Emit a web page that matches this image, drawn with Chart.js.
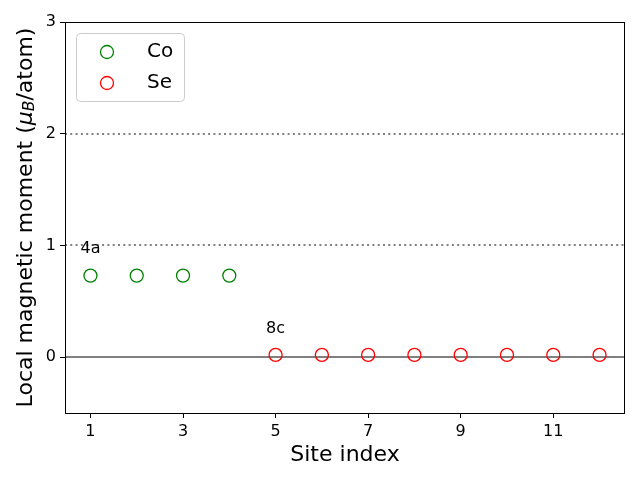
<!DOCTYPE html>
<html>
<head>
<meta charset="utf-8">
<script src="https://cdn.jsdelivr.net/npm/chart.js@4/dist/chart.umd.min.js"></script>
<style>
  html, body { margin: 0; padding: 0; background: #fff; }
  #wrap { width: 640px; height: 480px; }
</style>
</head>
<body>
<div id="wrap"><canvas id="momentChart" width="640" height="480"></canvas></div>
<script>
const coSites = [1, 2, 3, 4];
const coMoments = [0.73, 0.73, 0.73, 0.73];
const seSites = [5, 6, 7, 8, 9, 10, 11, 12];
const seMoments = [0.02, 0.02, 0.02, 0.02, 0.02, 0.02, 0.02, 0.02];
const xTicks = [1, 3, 5, 7, 9, 11];
const yTicks = [0, 1, 2, 3];
const refLines = [0, 1, 2];
const siteNames = ["4a", "8c"];
const siteNameX = [1, 5];
const siteNameY = [0.93, 0.22];

const FONT = "'DejaVu Sans', sans-serif";

function toPoints(xs, ys) {
    return xs.map((x, i) => ({ x: x, y: ys[i] }));
}

// reference lines, frame, site labels, legend and y title
const extras = {
    id: "extras",
    beforeDatasetsDraw(chart) {
        const ctx = chart.ctx;
        const a = chart.chartArea;
        const y = chart.scales.y;
        ctx.save();
        refLines.forEach(v => {
            const py = Math.round(y.getPixelForValue(v));
            ctx.beginPath();
            ctx.strokeStyle = "#808080";
            ctx.lineWidth = 2;
            ctx.setLineDash(v === 0 ? [] : [2, 3.3]);
            ctx.moveTo(a.left, py);
            ctx.lineTo(a.right, py);
            ctx.stroke();
        });
        ctx.restore();
    },
    afterDraw(chart) {
        const ctx = chart.ctx;
        const a = chart.chartArea;
        const xs = chart.scales.x;
        const ys = chart.scales.y;
        ctx.save();

        // frame
        ctx.strokeStyle = "#000";
        ctx.lineWidth = 1;
        ctx.setLineDash([]);
        ctx.strokeRect(Math.round(a.left) + 0.5, Math.round(a.top) + 0.5,
            Math.round(a.right - a.left) - 1, Math.round(a.bottom - a.top));

        // site labels
        ctx.fillStyle = "#000";
        ctx.font = "16px " + FONT;
        ctx.textAlign = "center";
        ctx.textBaseline = "alphabetic";
        siteNames.forEach((t, i) => {
            ctx.fillText(t, xs.getPixelForValue(siteNameX[i]), ys.getPixelForValue(siteNameY[i]));
        });

        // legend
        const lx = a.left + 11.5, ly = 33.5, lw = 108, lh = 68;
        ctx.beginPath();
        ctx.roundRect(lx, ly, lw, lh, 4);
        ctx.fillStyle = "rgba(255,255,255,0.8)";
        ctx.fill();
        ctx.strokeStyle = "#cccccc";
        ctx.lineWidth = 1;
        ctx.stroke();
        chart.data.datasets.forEach((ds, i) => {
            const cy = 52 + i * 31;
            ctx.beginPath();
            ctx.arc(107, cy, 6.5, 0, Math.PI * 2);
            ctx.strokeStyle = ds.borderColor;
            ctx.lineWidth = 1.3;
            ctx.stroke();
            ctx.fillStyle = "#000";
            ctx.font = "20px " + FONT;
            ctx.textAlign = "left";
            ctx.textBaseline = "middle";
            ctx.fillText(ds.label, 147, cy);
        });

        // y axis title with subscript
        const cx = 26, cyc = (a.top + a.bottom) / 2;
        ctx.translate(cx, cyc);
        ctx.rotate(-Math.PI / 2);
        ctx.textBaseline = "middle";
        ctx.textAlign = "left";
        const parts = [
            { t: "Local magnetic moment (", f: "22px " + FONT, dy: 0 },
            { t: "\u03bc", f: "italic 22px " + FONT, dy: 0 },
            { t: "B", f: "italic 15.5px " + FONT, dy: 4 },
            { t: "/atom)", f: "22px " + FONT, dy: 0 }
        ];
        let total = 0;
        parts.forEach(p => { ctx.font = p.f; p.w = ctx.measureText(p.t).width; total += p.w; });
        let px = -total / 2;
        ctx.fillStyle = "#000";
        parts.forEach(p => {
            ctx.font = p.f;
            ctx.fillText(p.t, px, p.dy);
            px += p.w;
        });
        ctx.restore();
    }
};

new Chart(document.getElementById("momentChart"), {
    type: "scatter",
    data: {
        datasets: [
            {
                label: "Co",
                data: toPoints(coSites, coMoments),
                borderColor: "#008000",
                backgroundColor: "rgba(0,0,0,0)",
                pointRadius: 6.5,
                pointBorderWidth: 1.3
            },
            {
                label: "Se",
                data: toPoints(seSites, seMoments),
                borderColor: "#ff0000",
                backgroundColor: "rgba(0,0,0,0)",
                pointRadius: 6.5,
                pointBorderWidth: 1.3
            }
        ]
    },
    options: {
        responsive: false,
        animation: false,
        devicePixelRatio: 1,
        layout: { padding: { left: 0, right: 15, top: 22, bottom: 0 } },
        plugins: {
            legend: { display: false },
            tooltip: { enabled: false }
        },
        scales: {
            x: {
                type: "linear",
                min: 0.45,
                max: 12.55,
                afterBuildTicks: s => { s.ticks = xTicks.map(v => ({ value: v })); },
                afterFit: s => { s.height = 67; },
                grid: { drawOnChartArea: false, drawTicks: true, tickLength: 5, tickColor: "#000" },
                border: { display: false },
                ticks: { color: "#000", font: { family: FONT, size: 16 }, padding: 4, autoSkip: false, maxRotation: 0 },
                title: { display: true, text: "Site index", color: "#000", font: { family: FONT, size: 22 }, padding: { top: 0, bottom: 12 } }
            },
            y: {
                type: "linear",
                min: -0.5,
                max: 3,
                afterBuildTicks: s => { s.ticks = yTicks.map(v => ({ value: v })); },
                afterFit: s => { s.width = 65; },
                grid: { drawOnChartArea: false, drawTicks: true, tickLength: 5, tickColor: "#000" },
                border: { display: false },
                ticks: { color: "#000", font: { family: FONT, size: 16 }, padding: 4, autoSkip: false }
            }
        }
    },
    plugins: [extras]
});
</script>
</body>
</html>
